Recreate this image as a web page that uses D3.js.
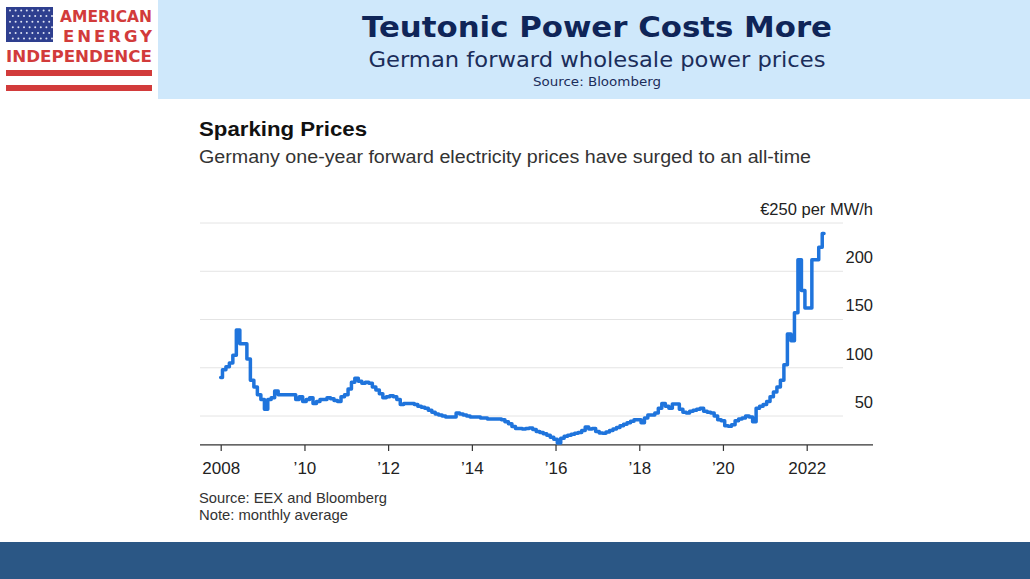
<!DOCTYPE html>
<html><head><meta charset="utf-8">
<script src="https://cdn.jsdelivr.net/npm/d3@7"></script>
<style>body{margin:0;background:#fff;}svg{display:block;}</style>
</head><body>
<svg id="c" width="1030" height="579"></svg>
<script>
// ---- data (monthly averages, EUR per MWh, starting Jan 2008) ----
const startYear = 2008;
const prices = [
  90, 98, 101, 105, 113, 139, 125, 125, 109, 87, 80, 72,        // 2008
  67, 57, 67, 69, 76, 72, 72, 72, 72, 72, 67, 70,               // 2009
  65, 67, 69, 63, 65, 67, 67, 69, 68, 66, 65, 70,               // 2010
  72, 78, 85, 89, 86, 84, 85, 84, 80, 77, 73, 69,               // 2011
  70, 71, 70, 67, 62, 63, 63, 63, 62, 60, 59, 58,               // 2012
  56, 54, 52, 51, 50, 49, 49, 49, 53, 52, 51, 50,               // 2013
  49, 49, 49, 48, 48, 47, 47, 47, 47, 46, 44, 42,               // 2014
  39, 37, 37, 36.5, 37, 37.5, 36, 34, 33, 31.5, 30, 28,         // 2015
  26, 22, 27, 29, 30, 31, 32, 33, 35, 38.5, 36.5, 37,           // 2016
  34, 32.5, 32, 33.5, 35, 36.5, 38, 40, 41.5, 43, 44.5, 46,     // 2017
  46, 43, 48, 51, 51, 53, 58, 63, 60, 58, 62.5, 62.5,           // 2018
  57, 54, 53, 55, 56, 57, 58, 55, 54, 53, 50, 46,               // 2019
  45, 40, 39.5, 41, 45, 47, 48, 50, 49, 44, 58, 60,             // 2020
  62, 65, 70, 75, 80, 87, 103, 135, 128, 157, 212, 180,         // 2021
  162, 162, 212, 212, 225, 239                                  // 2022
];
const xTickYears = [2008, 2010, 2012, 2014, 2016, 2018, 2020, 2022];
const xTickLabels = ["2008", "\u201910", "\u201912", "\u201914", "\u201916", "\u201918", "\u201920", "2022"];
const yTicks = [50, 100, 150, 200, 250];
const yTickLabels = ["50", "100", "150", "200", "\u20ac250 per MW/h"];

const dates = prices.map((v, i) => new Date(startYear, i, 1));
const data = prices.map((v, i) => ({date: dates[i], value: v}));

const svg = d3.select("#c");

// ---- header ----
svg.append("rect").attr("x", 0).attr("y", 0).attr("width", 1030).attr("height", 579).attr("fill", "#fff");
svg.append("rect").attr("x", 158).attr("y", 0).attr("width", 872).attr("height", 99).attr("fill", "#cfe8fb");
svg.append("rect").attr("x", 0).attr("y", 542).attr("width", 1030).attr("height", 37).attr("fill", "#2b5785");

// logo
const logo = svg.append("g");
logo.append("rect").attr("x", 6).attr("y", 7).attr("width", 47).attr("height", 35).attr("fill", "#2e3f8f");
for (let r = 0; r < 6; r++) {
  for (let c = 0; c < 8; c++) {
    logo.append("circle").attr("cx", 10 + c * 5.6 + (r % 2) * 2.8).attr("cy", 10.5 + r * 5.6)
      .attr("r", 1).attr("fill", "#dfe4f4");
  }
}
const red = "#d23b3b";
logo.append("text").attr("x", 60).attr("y", 22)
  .attr("font-family", "DejaVu Sans, sans-serif").attr("font-weight", "bold").attr("font-size", 16.5)
  .attr("fill", red).attr("textLength", 92).attr("lengthAdjust", "spacingAndGlyphs").text("AMERICAN");
logo.append("text").attr("x", 63).attr("y", 42)
  .attr("font-family", "DejaVu Sans, sans-serif").attr("font-weight", "bold").attr("font-size", 16.5)
  .attr("fill", red).attr("textLength", 89).attr("lengthAdjust", "spacing").text("ENERGY");
logo.append("text").attr("x", 6).attr("y", 62)
  .attr("font-family", "DejaVu Sans, sans-serif").attr("font-weight", "bold").attr("font-size", 16)
  .attr("fill", red).attr("textLength", 146).attr("lengthAdjust", "spacingAndGlyphs").text("INDEPENDENCE");
logo.append("rect").attr("x", 6).attr("y", 70).attr("width", 146).attr("height", 6).attr("fill", red);
logo.append("rect").attr("x", 6).attr("y", 85).attr("width", 146).attr("height", 6).attr("fill", red);

svg.append("text").attr("x", 597).attr("y", 37).attr("text-anchor", "middle")
  .attr("font-family", "DejaVu Sans, Verdana, sans-serif").attr("font-weight", "bold").attr("font-size", 28)
  .attr("fill", "#0f2558").attr("textLength", 470).attr("lengthAdjust", "spacingAndGlyphs")
  .text("Teutonic Power Costs More");
svg.append("text").attr("x", 597).attr("y", 67).attr("text-anchor", "middle")
  .attr("font-family", "DejaVu Sans, Verdana, sans-serif").attr("font-size", 22)
  .attr("fill", "#1b2d5a").attr("textLength", 457).attr("lengthAdjust", "spacingAndGlyphs")
  .text("German forward wholesale power prices");
svg.append("text").attr("x", 597).attr("y", 86).attr("text-anchor", "middle")
  .attr("font-family", "DejaVu Sans, Verdana, sans-serif").attr("font-size", 12.5)
  .attr("fill", "#1b2d5a").attr("textLength", 128).attr("lengthAdjust", "spacingAndGlyphs")
  .text("Source: Bloomberg");

// ---- chart text ----
const cf = "Liberation Sans, Arial, Helvetica, sans-serif";
svg.append("text").attr("x", 199).attr("y", 136).attr("font-family", cf).attr("font-weight", "bold")
  .attr("font-size", 21).attr("fill", "#111").attr("textLength", 168).attr("lengthAdjust", "spacingAndGlyphs")
  .text("Sparking Prices");
svg.append("text").attr("x", 199).attr("y", 163).attr("font-family", cf)
  .attr("font-size", 17.5).attr("fill", "#333").attr("textLength", 612).attr("lengthAdjust", "spacingAndGlyphs")
  .text("Germany one-year forward electricity prices have surged to an all-time");
svg.append("text").attr("x", 199).attr("y", 503).attr("font-family", cf)
  .attr("font-size", 14.5).attr("fill", "#333").attr("textLength", 188).attr("lengthAdjust", "spacingAndGlyphs")
  .text("Source: EEX and Bloomberg");
svg.append("text").attr("x", 199).attr("y", 520).attr("font-family", cf)
  .attr("font-size", 14.5).attr("fill", "#333").attr("textLength", 149).attr("lengthAdjust", "spacingAndGlyphs")
  .text("Note: monthly average");

// ---- scales ----
const x = d3.scaleTime()
  .domain([new Date(2008, 0, 1), new Date(2022, 0, 1)])
  .range([220.7, 806.7]);
const y = d3.scaleLinear().domain([50, 250]).range([416, 223]);
const yBase = y(20);

// grid lines
svg.append("g").selectAll("line").data(yTicks).join("line")
  .attr("x1", 200).attr("x2", 843)
  .attr("y1", d => y(d)).attr("y2", d => y(d))
  .attr("stroke", "#e4e4e4").attr("stroke-width", 1);

// y labels (right side, above the gridline)
const yAxis = d3.axisRight(y).tickValues(yTicks).tickSize(0)
  .tickFormat((d, i) => yTickLabels[i]);
const yg = svg.append("g").attr("transform", "translate(873,-14)").call(yAxis);
yg.select(".domain").remove();
yg.selectAll("text").attr("x", 0).attr("text-anchor", "end")
  .attr("font-family", cf).attr("font-size", 16.5).attr("fill", "#222");

// x axis
const xAxis = d3.axisBottom(x)
  .tickValues(xTickYears.map(yr => new Date(yr, 0, 1)))
  .tickSize(6).tickSizeOuter(0)
  .tickFormat((d, i) => xTickLabels[i]);
const xg = svg.append("g").attr("transform", `translate(0,${yBase})`).call(xAxis);
xg.select(".domain").remove();
xg.append("line").attr("x1", 200).attr("x2", 873).attr("y1", 0).attr("y2", 0)
  .attr("stroke", "#333").attr("stroke-width", 1.2);
xg.selectAll(".tick line").attr("stroke", "#333").attr("stroke-width", 1.2);
xg.selectAll(".tick text").attr("dy", 0).attr("y", 29)
  .attr("font-family", cf).attr("font-size", 17).attr("fill", "#222");

// ---- line ----
const line = d3.line().x(d => x(d.date)).y(d => y(d.value)).curve(d3.curveStep);
svg.append("path").datum(data).attr("d", line)
  .attr("fill", "none").attr("stroke", "#1f74dc").attr("stroke-width", 3.5)
  .attr("stroke-linejoin", "round").attr("stroke-linecap", "round");
</script>
</body></html>
